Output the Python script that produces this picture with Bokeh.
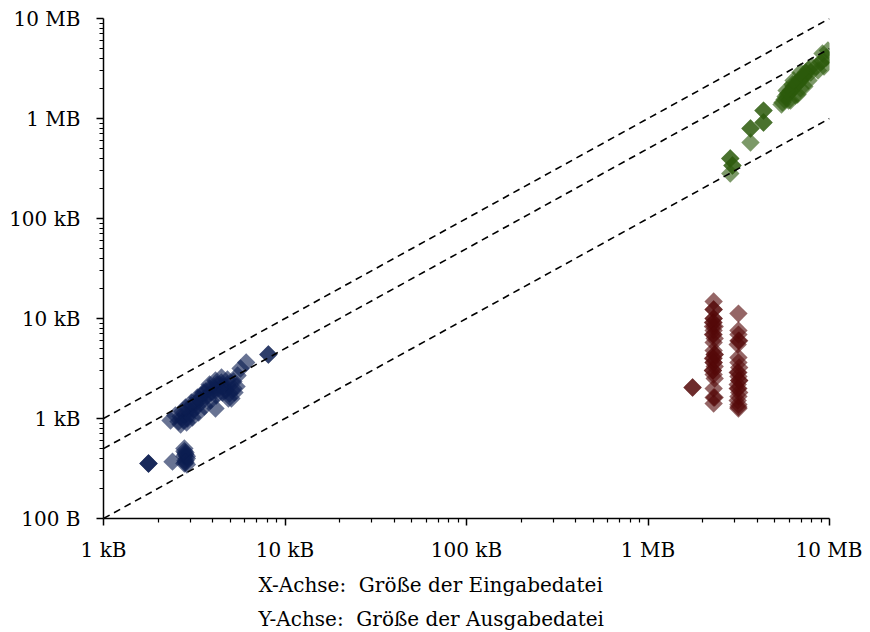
import math
from bokeh.plotting import figure
from bokeh.models import Range1d, FixedTicker, CustomJSTickFormatter, Title
from bokeh.embed import file_html
from bokeh.resources import INLINE

# All sizes in kB (1 kB = 1000 B)
blue_x = [1.77, 1.77, 1.77, 2.40,
          2.79, 2.83, 2.79, 2.88, 2.83, 2.79, 2.88, 2.83, 2.83, 2.88, 2.79,
          2.34, 2.49, 2.59, 2.66, 2.72, 2.76, 2.83, 2.90, 2.94, 3.01, 3.05, 3.13,
          3.21, 3.29, 3.38, 3.46, 3.55, 3.65, 3.74, 3.84, 3.93, 4.03, 4.14, 4.24,
          4.35, 4.46, 4.58, 4.70, 4.82, 4.94, 5.07, 5.20,
          2.66, 2.87, 3.09, 3.34, 3.60, 3.89, 4.19, 4.52, 4.88, 5.27,
          2.83, 3.05, 3.29, 3.55, 3.84, 4.14, 4.47, 4.82, 5.20, 5.41,
          4.14, 5.48, 5.69, 6.11,
          8.10, 8.10]
blue_y = [0.355, 0.355, 0.355, 0.370,
          0.501, 0.457, 0.420, 0.398, 0.380, 0.355, 0.347, 0.440, 0.365, 0.420, 0.470,
          0.955, 1.072, 0.933, 1.047, 1.175, 0.955, 1.096, 1.000, 1.230, 1.122, 1.349, 1.230,
          1.413, 1.318, 1.549, 1.698, 1.549, 1.862, 1.698, 1.995, 1.820, 2.089, 1.905, 2.188,
          1.995, 2.291, 2.089, 1.905, 2.188, 1.778, 1.585, 1.995,
          0.871, 0.912, 1.023, 1.148, 1.318, 1.514, 1.698, 1.820, 1.585, 1.820,
          1.288, 1.445, 1.622, 1.820, 2.188, 2.399, 2.570, 2.455, 2.344, 2.089,
          1.259, 2.692, 3.162, 3.631,
          4.365, 4.365]

green_x = [2840, 2840, 2920, 2920, 2840, 3670, 3670, 3670, 4330, 4330, 4330, 4330,
           5510, 5730, 5950, 6180, 6420, 6670, 6920, 7190, 7470, 5950, 6500, 6920, 7660, 7890, 6260,
           5440, 5650, 5870, 6100, 6340, 6590, 6840, 7110, 7390, 7660, 7960,
           6100, 6670, 7270, 5800, 6340, 6920,
           9150, 9610, 8970, 9330, 8640, 9800, 8450, 9150]
green_y = [398, 398, 339, 339, 282, 794, 794, 575, 1200, 1200, 912, 912,
           1445, 1660, 1780, 1910, 2090, 2240, 2400, 2630, 2820, 1510, 1700, 2000, 2400, 2880, 2190,
           1380, 1550, 1740, 1910, 2090, 2290, 2450, 2630, 2880, 3090, 3310,
           1510, 1740, 2090, 1910, 2400, 2880,
           4470, 4070, 3630, 3310, 3020, 4790, 3310, 3800]

red_x = [2300, 2300, 2300,
         2300, 2280, 2330, 2300, 2280, 2330, 2300,
         2300, 2330, 2280, 2300, 2330, 2280, 2300, 2330,
         2300, 2280, 2300, 2330, 2300, 2280, 2300, 2300,
         2300, 2300, 2330, 2300,
         3150, 3150, 3150, 3180, 3120, 3150,
         3150, 3150, 3180, 3120, 3150, 3180, 3120, 3150, 3180, 3150, 3120, 3150, 3150, 3150,
         3180, 3120, 3150,
         1760, 1760]
red_y = [14.8, 12.3, 12.3,
         10.0, 9.1, 8.3, 7.6, 6.9, 6.3, 5.75,
         4.79, 4.37, 3.98, 3.63, 3.31, 3.02, 2.75, 2.51,
         10.0, 8.3, 6.9, 4.37, 3.63, 3.02, 9.1, 4.0,
         1.99, 1.62, 1.62, 1.41,
         11.2, 7.6, 6.9, 6.0, 5.5, 6.0,
         4.07, 3.63, 3.24, 2.88, 2.63, 2.40, 2.19, 1.99, 1.82, 1.66, 1.51, 1.38, 1.26, 2.88,
         2.40, 1.99, 1.30,
         2.04, 2.04]

ratios = [1.0, 0.5, 0.1]

x_ticks = [1, 10, 100, 1000, 10000]
x_tick_labels = ["1 kB", "10 kB", "100 kB", "1 MB", "10 MB"]
y_ticks = [0.1, 1, 10, 100, 1000, 10000]
y_tick_labels = ["100 B", "1 kB", "10 kB", "100 kB", "1 MB", "10 MB"]

caption_lines = ["X-Achse:\u00a0 Größe der Eingabedatei", "Y-Achse:\u00a0 Größe der Ausgabedatei"]

FONT = "DejaVu Serif"
BLUE = "#0b1d50"
GREEN = "#2c5a0c"
RED = "#540808"

p = figure(x_axis_type="log", y_axis_type="log",
           x_range=Range1d(x_ticks[0], x_ticks[-1]),
           y_range=Range1d(y_ticks[0], y_ticks[-1]),
           frame_width=726, frame_height=500,
           min_border_left=103, min_border_right=33,
           min_border_top=18, min_border_bottom=112,
           output_backend="svg", toolbar_location=None,
           background_fill_color="white", border_fill_color="white",
           outline_line_color=None)
p.grid.visible = False

for xs, ys, col in [(blue_x, blue_y, BLUE), (red_x, red_y, RED), (green_x, green_y, GREEN)]:
    p.scatter(xs, ys, marker="square", size=13, angle=math.pi / 4,
              fill_color=col, fill_alpha=0.62, line_color=None)

for r in ratios:
    p.line([x_ticks[0], x_ticks[-1]], [x_ticks[0] * r, x_ticks[-1] * r],
           line_color="black", line_width=1.6, line_dash="7 5")

fmt_code = """
for (let i = 0; i < tvals.length; i++) {
  if (Math.abs(Math.log10(tvals[i]) - Math.log10(tick)) < 1e-6) return tlabels[i];
}
return "";
"""

def minors(ticks):
    return [t * k for t in ticks[:-1] for k in range(2, 10)]

p.xaxis.ticker = FixedTicker(ticks=x_ticks, minor_ticks=minors(x_ticks))
p.yaxis.ticker = FixedTicker(ticks=y_ticks, minor_ticks=minors(y_ticks))
p.xaxis.formatter = CustomJSTickFormatter(args=dict(tvals=x_ticks, tlabels=x_tick_labels), code=fmt_code)
p.yaxis.formatter = CustomJSTickFormatter(args=dict(tvals=y_ticks, tlabels=y_tick_labels), code=fmt_code)

for ax in [p.xaxis[0], p.yaxis[0]]:
    ax.axis_line_color = "black"
    ax.axis_line_width = 1.5
    ax.major_tick_line_color = "black"
    ax.major_tick_line_width = 1.5
    ax.minor_tick_line_color = "black"
    ax.minor_tick_line_width = 1.2
    ax.major_tick_out = 7
    ax.major_tick_in = 0
    ax.minor_tick_out = 4
    ax.minor_tick_in = 0
    ax.major_label_text_font = FONT
    ax.major_label_text_font_size = "20px"
    ax.major_label_text_color = "black"
p.yaxis.major_label_standoff = 16
p.xaxis.major_label_standoff = 12

for i, line in enumerate(caption_lines):
    p.add_layout(Title(text=line, align="left", offset=155, standoff=12 if i == 0 else 5,
                       text_font=FONT, text_font_size="20px", text_font_style="normal",
                       text_color="black"), "below")

open("out.html", "w").write(file_html(p, INLINE))
